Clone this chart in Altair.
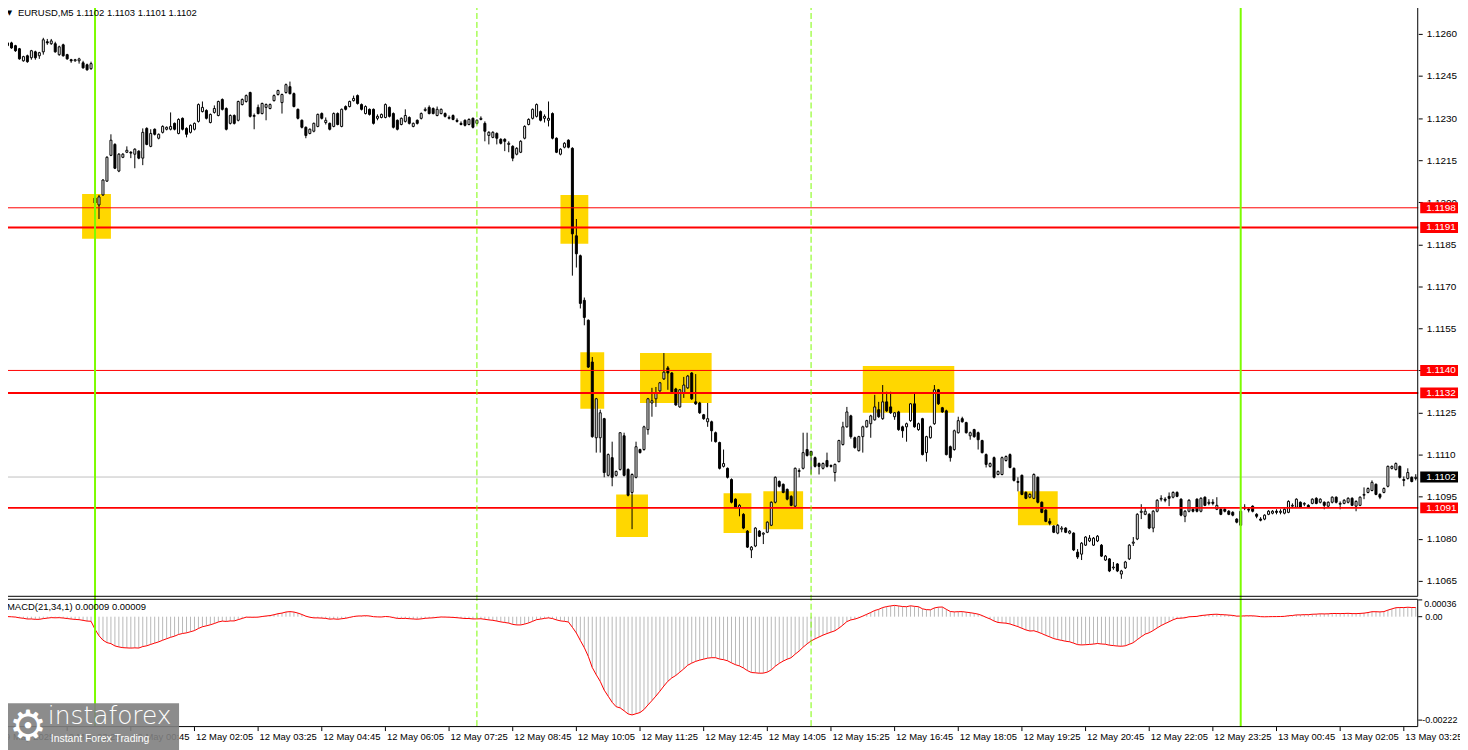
import altair as alt
import pandas as pd

# ----------------------------------------------------------------------------
# EURUSD M5 candles, 9 May 22:05 -> 13 May 03:40 (one value per bar)
# ----------------------------------------------------------------------------
open_ = [
    1.12575, 1.12558, 1.12568, 1.12558, 1.12547, 1.12504, 1.12522, 1.12515, 1.12536, 1.12522,
    1.12536, 1.12572, 1.12565, 1.12565, 1.12526, 1.12561, 1.12526, 1.12508, 1.12504, 1.12504,
    1.12497, 1.12490, 1.12476, 1.12015, 1.11990, 1.12026, 1.12075, 1.12167, 1.12206, 1.12111,
    1.12160, 1.12178, 1.12178, 1.12171, 1.12182, 1.12157, 1.12263, 1.12199, 1.12260, 1.12228,
    1.12249, 1.12260, 1.12260, 1.12281, 1.12245, 1.12299, 1.12263, 1.12249, 1.12260, 1.12288,
    1.12323, 1.12327, 1.12284, 1.12320, 1.12309, 1.12366, 1.12334, 1.12281, 1.12309, 1.12292,
    1.12348, 1.12359, 1.12391, 1.12306, 1.12338, 1.12316, 1.12338, 1.12334, 1.12362, 1.12384,
    1.12355, 1.12391, 1.12412, 1.12387, 1.12331, 1.12292, 1.12267, 1.12245, 1.12253, 1.12270,
    1.12316, 1.12284, 1.12281, 1.12270, 1.12316, 1.12270, 1.12341, 1.12341, 1.12362, 1.12380,
    1.12348, 1.12316, 1.12331, 1.12331, 1.12299, 1.12302, 1.12302, 1.12338, 1.12316, 1.12292,
    1.12277, 1.12288, 1.12302, 1.12270, 1.12292, 1.12299, 1.12327, 1.12338, 1.12334, 1.12309,
    1.12316, 1.12316, 1.12299, 1.12309, 1.12292, 1.12281, 1.12292, 1.12277, 1.12299, 1.12281,
    1.12295, 1.12281, 1.12238, 1.12231, 1.12245, 1.12224, 1.12224, 1.12206, 1.12199, 1.12171,
    1.12178, 1.12228, 1.12277, 1.12299, 1.12306, 1.12323, 1.12299, 1.12292, 1.12316, 1.12228,
    1.12171, 1.12196, 1.12221, 1.12192, 1.11880, 1.11809, 1.11650, 1.11579, 1.11430, 1.11160,
    1.11160, 1.11228, 1.11026, 1.11089, 1.11026, 1.11047, 1.11167, 1.11047, 1.10965, 1.11019,
    1.11118, 1.11118, 1.11189, 1.11284, 1.11299, 1.11327, 1.11370, 1.11409, 1.11391, 1.11334,
    1.11270, 1.11320, 1.11338, 1.11391, 1.11288, 1.11284, 1.11242, 1.11217, 1.11217, 1.11178,
    1.11143, 1.11058, 1.11051, 1.11011, 1.10941, 1.10912, 1.10887, 1.10827, 1.10760, 1.10774,
    1.10827, 1.10816, 1.10823, 1.10848, 1.10930, 1.11004, 1.10994, 1.10976, 1.10951, 1.10916,
    1.11040, 1.11051, 1.11118, 1.11111, 1.11089, 1.11068, 1.11051, 1.11079, 1.11061, 1.11036,
    1.11075, 1.11136, 1.11199, 1.11238, 1.11160, 1.11114, 1.11164, 1.11199, 1.11210, 1.11224,
    1.11260, 1.11228, 1.11288, 1.11270, 1.11235, 1.11252, 1.11199, 1.11199, 1.11221, 1.11281,
    1.11189, 1.11228, 1.11107, 1.11160, 1.11210, 1.11331, 1.11267, 1.11256, 1.11128, 1.11118,
    1.11178, 1.11228, 1.11214, 1.11167, 1.11189, 1.11178, 1.11150, 1.11100, 1.11058, 1.11089,
    1.11029, 1.11029, 1.11079, 1.11100, 1.11051, 1.11004, 1.11026, 1.10965, 1.10948, 1.10944,
    1.11019, 1.10930, 1.10902, 1.10862, 1.10845, 1.10820, 1.10834, 1.10838, 1.10820, 1.10820,
    1.10752, 1.10745, 1.10777, 1.10792, 1.10777, 1.10792, 1.10777, 1.10724, 1.10728, 1.10696,
    1.10710, 1.10674, 1.10696, 1.10728, 1.10784, 1.10799, 1.10894, 1.10887, 1.10887, 1.10838,
    1.10898, 1.10941, 1.10941, 1.10951, 1.10948, 1.10965, 1.10941, 1.10880, 1.10898, 1.10905,
    1.10941, 1.10898, 1.10948, 1.10926, 1.10930, 1.10905, 1.10905, 1.10905, 1.10898, 1.10894,
    1.10870, 1.10848, 1.10909, 1.10905, 1.10916, 1.10887, 1.10870, 1.10870, 1.10887, 1.10891,
    1.10898, 1.10894, 1.10891, 1.10894, 1.10916, 1.10912, 1.10930, 1.10923, 1.10919, 1.10926,
    1.10944, 1.10930, 1.10930, 1.10916, 1.10930, 1.10948, 1.10923, 1.10926, 1.10930, 1.10944,
    1.10916, 1.10919, 1.10955, 1.10965, 1.10972, 1.10994, 1.10958, 1.10965, 1.10987, 1.11051,
    1.11047, 1.11058, 1.11011, 1.11015, 1.11019, 1.11015,
]

close = [
    1.12561, 1.12568, 1.12550, 1.12540, 1.12511, 1.12519, 1.12501, 1.12540, 1.12515, 1.12533,
    1.12579, 1.12568, 1.12575, 1.12536, 1.12554, 1.12522, 1.12511, 1.12504, 1.12508, 1.12511,
    1.12479, 1.12472, 1.12494, 1.11997, 1.12019, 1.12079, 1.12160, 1.12221, 1.12121, 1.12171,
    1.12171, 1.12185, 1.12175, 1.12189, 1.12157, 1.12249, 1.12206, 1.12245, 1.12242, 1.12242,
    1.12270, 1.12267, 1.12270, 1.12260, 1.12295, 1.12260, 1.12242, 1.12274, 1.12281, 1.12348,
    1.12338, 1.12299, 1.12313, 1.12334, 1.12359, 1.12331, 1.12260, 1.12309, 1.12281, 1.12359,
    1.12366, 1.12380, 1.12306, 1.12309, 1.12316, 1.12352, 1.12348, 1.12348, 1.12380, 1.12398,
    1.12384, 1.12419, 1.12387, 1.12341, 1.12299, 1.12267, 1.12238, 1.12260, 1.12281, 1.12313,
    1.12299, 1.12292, 1.12260, 1.12316, 1.12277, 1.12331, 1.12331, 1.12359, 1.12370, 1.12352,
    1.12331, 1.12341, 1.12313, 1.12281, 1.12306, 1.12313, 1.12348, 1.12306, 1.12267, 1.12260,
    1.12299, 1.12309, 1.12281, 1.12281, 1.12281, 1.12316, 1.12331, 1.12316, 1.12316, 1.12331,
    1.12331, 1.12306, 1.12302, 1.12295, 1.12288, 1.12277, 1.12274, 1.12295, 1.12267, 1.12292,
    1.12299, 1.12253, 1.12249, 1.12249, 1.12228, 1.12210, 1.12217, 1.12210, 1.12157, 1.12192,
    1.12217, 1.12270, 1.12295, 1.12331, 1.12348, 1.12292, 1.12306, 1.12299, 1.12228, 1.12178,
    1.12189, 1.12210, 1.12196, 1.11887, 1.11816, 1.11639, 1.11589, 1.11412, 1.11164, 1.11299,
    1.11249, 1.11036, 1.11100, 1.11019, 1.11040, 1.11178, 1.11026, 1.10955, 1.11029, 1.11128,
    1.11107, 1.11199, 1.11299, 1.11292, 1.11320, 1.11356, 1.11394, 1.11391, 1.11324, 1.11277,
    1.11331, 1.11348, 1.11380, 1.11299, 1.11281, 1.11249, 1.11228, 1.11228, 1.11185, 1.11146,
    1.11051, 1.11068, 1.11019, 1.10930, 1.10912, 1.10919, 1.10838, 1.10770, 1.10770, 1.10838,
    1.10809, 1.10820, 1.10859, 1.10930, 1.11019, 1.10987, 1.10965, 1.10941, 1.10919, 1.11051,
    1.11043, 1.11107, 1.11097, 1.11097, 1.11058, 1.11058, 1.11068, 1.11058, 1.11058, 1.11065,
    1.11150, 1.11199, 1.11252, 1.11164, 1.11125, 1.11164, 1.11199, 1.11221, 1.11238, 1.11270,
    1.11235, 1.11288, 1.11256, 1.11249, 1.11249, 1.11189, 1.11185, 1.11210, 1.11281, 1.11199,
    1.11210, 1.11100, 1.11164, 1.11199, 1.11331, 1.11281, 1.11252, 1.11100, 1.11089, 1.11185,
    1.11221, 1.11217, 1.11178, 1.11178, 1.11164, 1.11153, 1.11107, 1.11065, 1.11068, 1.11019,
    1.11040, 1.11089, 1.11093, 1.11054, 1.11008, 1.11001, 1.10958, 1.10944, 1.10958, 1.11029,
    1.10930, 1.10894, 1.10862, 1.10855, 1.10823, 1.10848, 1.10838, 1.10823, 1.10827, 1.10760,
    1.10735, 1.10784, 1.10806, 1.10802, 1.10802, 1.10809, 1.10738, 1.10738, 1.10685, 1.10699,
    1.10685, 1.10685, 1.10717, 1.10777, 1.10788, 1.10887, 1.10898, 1.10898, 1.10838, 1.10898,
    1.10937, 1.10944, 1.10937, 1.10944, 1.10965, 1.10951, 1.10884, 1.10898, 1.10937, 1.10898,
    1.10898, 1.10944, 1.10919, 1.10930, 1.10926, 1.10919, 1.10887, 1.10898, 1.10887, 1.10884,
    1.10859, 1.10898, 1.10912, 1.10902, 1.10898, 1.10880, 1.10866, 1.10884, 1.10898, 1.10898,
    1.10894, 1.10898, 1.10905, 1.10933, 1.10919, 1.10941, 1.10912, 1.10926, 1.10912, 1.10941,
    1.10926, 1.10941, 1.10919, 1.10930, 1.10948, 1.10930, 1.10926, 1.10937, 1.10944, 1.10919,
    1.10933, 1.10948, 1.10958, 1.10979, 1.11001, 1.10958, 1.10948, 1.10979, 1.11058, 1.11058,
    1.11068, 1.11019, 1.11008, 1.11036, 1.11004, 1.11019,
]

high = [
    1.12579, 1.12572, 1.12572, 1.12561, 1.12550, 1.12522, 1.12526, 1.12543, 1.12540, 1.12536,
    1.12586, 1.12582, 1.12582, 1.12572, 1.12558, 1.12565, 1.12529, 1.12511, 1.12511, 1.12515,
    1.12504, 1.12494, 1.12501, 1.12019, 1.12026, 1.12082, 1.12164, 1.12242, 1.12210, 1.12175,
    1.12175, 1.12199, 1.12182, 1.12192, 1.12185, 1.12263, 1.12267, 1.12260, 1.12263, 1.12245,
    1.12274, 1.12270, 1.12320, 1.12284, 1.12299, 1.12302, 1.12267, 1.12277, 1.12284, 1.12352,
    1.12359, 1.12331, 1.12316, 1.12345, 1.12362, 1.12370, 1.12338, 1.12313, 1.12313, 1.12362,
    1.12370, 1.12384, 1.12394, 1.12316, 1.12348, 1.12355, 1.12352, 1.12352, 1.12384, 1.12401,
    1.12387, 1.12423, 1.12430, 1.12391, 1.12334, 1.12295, 1.12270, 1.12263, 1.12284, 1.12316,
    1.12320, 1.12302, 1.12284, 1.12320, 1.12320, 1.12334, 1.12345, 1.12362, 1.12380, 1.12384,
    1.12352, 1.12345, 1.12334, 1.12334, 1.12313, 1.12316, 1.12352, 1.12341, 1.12320, 1.12295,
    1.12302, 1.12331, 1.12306, 1.12284, 1.12295, 1.12320, 1.12338, 1.12345, 1.12338, 1.12341,
    1.12334, 1.12320, 1.12309, 1.12313, 1.12299, 1.12288, 1.12295, 1.12299, 1.12302, 1.12295,
    1.12306, 1.12288, 1.12253, 1.12253, 1.12249, 1.12228, 1.12228, 1.12217, 1.12203, 1.12196,
    1.12221, 1.12274, 1.12299, 1.12334, 1.12352, 1.12327, 1.12313, 1.12359, 1.12320, 1.12231,
    1.12192, 1.12214, 1.12224, 1.12196, 1.11940, 1.11813, 1.11660, 1.11582, 1.11448, 1.11302,
    1.11260, 1.11231, 1.11104, 1.11146, 1.11043, 1.11178, 1.11178, 1.11051, 1.11033, 1.11146,
    1.11121, 1.11203, 1.11302, 1.11338, 1.11341, 1.11359, 1.11462, 1.11416, 1.11394, 1.11338,
    1.11334, 1.11377, 1.11384, 1.11394, 1.11387, 1.11288, 1.11245, 1.11284, 1.11221, 1.11182,
    1.11146, 1.11118, 1.11054, 1.11015, 1.10944, 1.10923, 1.10891, 1.10831, 1.10774, 1.10841,
    1.10831, 1.10823, 1.10862, 1.10933, 1.11022, 1.11008, 1.10997, 1.10979, 1.10955, 1.11054,
    1.11051, 1.11178, 1.11178, 1.11114, 1.11093, 1.11072, 1.11072, 1.11107, 1.11065, 1.11068,
    1.11153, 1.11217, 1.11270, 1.11242, 1.11164, 1.11167, 1.11203, 1.11224, 1.11242, 1.11313,
    1.11288, 1.11348, 1.11324, 1.11324, 1.11252, 1.11256, 1.11203, 1.11214, 1.11284, 1.11320,
    1.11214, 1.11231, 1.11167, 1.11203, 1.11348, 1.11334, 1.11270, 1.11260, 1.11132, 1.11189,
    1.11235, 1.11235, 1.11217, 1.11182, 1.11192, 1.11182, 1.11153, 1.11104, 1.11072, 1.11093,
    1.11043, 1.11093, 1.11097, 1.11104, 1.11054, 1.11019, 1.11029, 1.10969, 1.10962, 1.11033,
    1.11022, 1.10933, 1.10905, 1.10873, 1.10848, 1.10852, 1.10845, 1.10841, 1.10831, 1.10823,
    1.10763, 1.10788, 1.10809, 1.10813, 1.10806, 1.10813, 1.10781, 1.10742, 1.10731, 1.10717,
    1.10713, 1.10689, 1.10721, 1.10781, 1.10806, 1.10891, 1.10923, 1.10912, 1.10891, 1.10902,
    1.10941, 1.10955, 1.10948, 1.10965, 1.10969, 1.10969, 1.10944, 1.10902, 1.10941, 1.10909,
    1.10944, 1.10948, 1.10951, 1.10941, 1.10941, 1.10948, 1.10909, 1.10909, 1.10902, 1.10898,
    1.10873, 1.10916, 1.10923, 1.10912, 1.10919, 1.10891, 1.10877, 1.10887, 1.10902, 1.10902,
    1.10905, 1.10905, 1.10909, 1.10937, 1.10926, 1.10944, 1.10933, 1.10930, 1.10923, 1.10944,
    1.10948, 1.10944, 1.10933, 1.10933, 1.10951, 1.10951, 1.10933, 1.10941, 1.10948, 1.10948,
    1.10937, 1.10951, 1.10983, 1.10983, 1.11008, 1.10997, 1.10962, 1.10983, 1.11061, 1.11061,
    1.11072, 1.11061, 1.11022, 1.11051, 1.11022, 1.11030,
]

low = [
    1.12558, 1.12554, 1.12547, 1.12536, 1.12508, 1.12501, 1.12497, 1.12508, 1.12508, 1.12511,
    1.12526, 1.12561, 1.12561, 1.12533, 1.12522, 1.12519, 1.12508, 1.12497, 1.12501, 1.12494,
    1.12476, 1.12469, 1.12472, 1.11940, 1.11940, 1.12022, 1.12072, 1.12164, 1.12118, 1.12107,
    1.12157, 1.12175, 1.12157, 1.12121, 1.12153, 1.12132, 1.12203, 1.12196, 1.12238, 1.12224,
    1.12245, 1.12256, 1.12256, 1.12256, 1.12242, 1.12256, 1.12231, 1.12245, 1.12256, 1.12284,
    1.12320, 1.12295, 1.12281, 1.12316, 1.12306, 1.12327, 1.12256, 1.12277, 1.12277, 1.12288,
    1.12345, 1.12355, 1.12302, 1.12260, 1.12313, 1.12313, 1.12292, 1.12331, 1.12359, 1.12380,
    1.12316, 1.12387, 1.12384, 1.12338, 1.12295, 1.12263, 1.12228, 1.12242, 1.12249, 1.12267,
    1.12295, 1.12277, 1.12256, 1.12267, 1.12274, 1.12267, 1.12327, 1.12338, 1.12359, 1.12348,
    1.12327, 1.12313, 1.12309, 1.12277, 1.12292, 1.12299, 1.12299, 1.12302, 1.12263, 1.12256,
    1.12274, 1.12284, 1.12277, 1.12267, 1.12277, 1.12295, 1.12323, 1.12313, 1.12313, 1.12306,
    1.12313, 1.12302, 1.12295, 1.12292, 1.12284, 1.12274, 1.12270, 1.12274, 1.12263, 1.12277,
    1.12292, 1.12217, 1.12206, 1.12228, 1.12206, 1.12206, 1.12182, 1.12178, 1.12146, 1.12167,
    1.12175, 1.12224, 1.12274, 1.12295, 1.12302, 1.12288, 1.12284, 1.12270, 1.12224, 1.12175,
    1.12167, 1.12192, 1.12192, 1.11738, 1.11767, 1.11621, 1.11561, 1.11409, 1.11160, 1.11107,
    1.11107, 1.11019, 1.11022, 1.10987, 1.11022, 1.11043, 1.11022, 1.10951, 1.10834, 1.11015,
    1.11104, 1.11114, 1.11171, 1.11235, 1.11270, 1.11324, 1.11366, 1.11331, 1.11320, 1.11274,
    1.11267, 1.11302, 1.11334, 1.11295, 1.11277, 1.11245, 1.11224, 1.11199, 1.11146, 1.11143,
    1.11047, 1.11054, 1.11015, 1.10926, 1.10909, 1.10880, 1.10834, 1.10767, 1.10731, 1.10770,
    1.10806, 1.10781, 1.10820, 1.10845, 1.10926, 1.10983, 1.10962, 1.10937, 1.10916, 1.10912,
    1.11019, 1.11047, 1.11093, 1.11029, 1.11054, 1.11029, 1.11047, 1.11054, 1.11054, 1.11004,
    1.11072, 1.11132, 1.11196, 1.11157, 1.11121, 1.11111, 1.11107, 1.11196, 1.11160, 1.11221,
    1.11231, 1.11224, 1.11252, 1.11245, 1.11224, 1.11185, 1.11160, 1.11146, 1.11217, 1.11196,
    1.11185, 1.11097, 1.11075, 1.11157, 1.11206, 1.11277, 1.11249, 1.11097, 1.11075, 1.11114,
    1.11175, 1.11214, 1.11175, 1.11153, 1.11160, 1.11118, 1.11104, 1.11054, 1.11054, 1.11015,
    1.11026, 1.11026, 1.11075, 1.11051, 1.11004, 1.10969, 1.10955, 1.10941, 1.10944, 1.10941,
    1.10926, 1.10891, 1.10859, 1.10848, 1.10820, 1.10816, 1.10823, 1.10820, 1.10816, 1.10756,
    1.10728, 1.10724, 1.10774, 1.10788, 1.10774, 1.10788, 1.10735, 1.10721, 1.10681, 1.10689,
    1.10681, 1.10657, 1.10692, 1.10724, 1.10774, 1.10795, 1.10870, 1.10884, 1.10834, 1.10823,
    1.10894, 1.10933, 1.10930, 1.10916, 1.10944, 1.10948, 1.10880, 1.10859, 1.10894, 1.10894,
    1.10894, 1.10894, 1.10916, 1.10919, 1.10919, 1.10902, 1.10884, 1.10894, 1.10884, 1.10880,
    1.10855, 1.10845, 1.10902, 1.10894, 1.10894, 1.10873, 1.10862, 1.10866, 1.10884, 1.10887,
    1.10887, 1.10887, 1.10887, 1.10891, 1.10909, 1.10909, 1.10909, 1.10916, 1.10909, 1.10923,
    1.10923, 1.10926, 1.10905, 1.10912, 1.10926, 1.10926, 1.10905, 1.10923, 1.10926, 1.10916,
    1.10898, 1.10916, 1.10941, 1.10962, 1.10969, 1.10955, 1.10941, 1.10962, 1.10983, 1.11047,
    1.11043, 1.11015, 1.10987, 1.11011, 1.11001, 1.11008,
]

assert len(open_) == len(close) == len(high) == len(low) == 356

# time axis labels (one every 16 bars, bar index 0 = 9 May 22:05)
time_tick_idx = list(range(0, 353, 16))
time_tick_labels = [
    "9 May 2025", "9 May 23:25", "12 May 00:45", "12 May 02:05", "12 May 03:25",
    "12 May 04:45", "12 May 06:05", "12 May 07:25", "12 May 08:45", "12 May 10:05",
    "12 May 11:25", "12 May 12:45", "12 May 14:05", "12 May 15:25", "12 May 16:45",
    "12 May 18:05", "12 May 19:25", "12 May 20:45", "12 May 22:05", "12 May 23:25",
    "13 May 00:45", "13 May 02:05", "13 May 03:25",
]

price_ticks = [1.1260, 1.1245, 1.1230, 1.1215, 1.1200, 1.1185, 1.1170,
               1.1155, 1.1140, 1.1125, 1.1110, 1.1095, 1.1080, 1.1065]

level_thin = [1.1198, 1.1140]
level_thick = [1.1191, 1.1132, 1.1091]
current_price = 1.1102

day_start_idx = [23, 311]      # 12 May 00:00, 13 May 00:00
session_idx = [119, 203]       # 12 May 08:00, 12 May 15:00

# yellow signal zones: bar-index span and price span
zone_i0 = [19.75, 140.0, 145.0, 160.0, 154.0, 181.0, 191.0, 216.0, 255.0]
zone_i1 = [27.0, 147.0, 151.0, 178.0, 162.0, 188.0, 201.0, 239.0, 265.0]
zone_top = [1.12029, 1.12026, 1.11465, 1.11462, 1.10958, 1.10962, 1.10969, 1.11416, 1.10969]
zone_bot = [1.11870, 1.11852, 1.11263, 1.11284, 1.10806, 1.10820, 1.10834, 1.11249, 1.10848]

macd_max_val, macd_max_txt = 0.00036, "0.00036"
macd_zero_val, macd_zero_txt = 0.0, "0.00"
macd_min_val, macd_min_txt = -0.00222, "-0.00222"

header_text = "EURUSD,M5  1.1102 1.1103 1.1101 1.1102"
macd_title = "MACD(21,34,1) 0.00009 0.00009"

# ----------------------------------------------------------------------------
bars = pd.DataFrame({"i": range(len(close)), "open": open_, "high": high,
                     "low": low, "close": close})
cs = pd.Series(close)
bars["macd"] = cs.ewm(span=21, adjust=False).mean() - cs.ewm(span=34, adjust=False).mean()

W, H = 1423, 727
MAIN_H = 595
MACD_TOP = 598
FONT = "Liberation Sans"
FS = 9.5
FS_AX = 10

XS = alt.Scale(domain=[-0.125, 355.625], nice=False, zero=False)
PS = alt.Scale(domain=[1.10128369, 1.12706383], nice=False, zero=False)
MS = alt.Scale(domain=[-0.0023695, 0.0131495], nice=False, zero=False)

one = pd.DataFrame({"k": [0]})


def X(f):
    return alt.X(f, type="quantitative", scale=XS, axis=None)


def PY(f):
    return alt.Y(f, type="quantitative", scale=PS, axis=None)


def MY(f):
    return alt.Y(f, type="quantitative", scale=MS, axis=None)


zones = alt.Chart(pd.DataFrame({"i0": zone_i0, "i1": zone_i1, "top": zone_top, "bot": zone_bot})).mark_rect(
    color="#FFD700").encode(x=X("i0"), x2="i1", y=PY("top"), y2="bot")

cur_line = alt.Chart(pd.DataFrame({"p": [current_price]})).mark_rule(color="#C0C0C0", strokeWidth=1).encode(
    y=PY("p"), x=alt.value(0), x2=alt.value(W))

wicks = alt.Chart(bars).mark_rule(color="black", strokeWidth=1, clip=True).encode(
    x=X("i"), y=PY("low"), y2="high")

bodies = alt.Chart(bars).transform_calculate(
    xl="datum.i - 0.25", xr="datum.i + 0.25"
).mark_rect(stroke="black", strokeWidth=1, clip=True).encode(
    x=X("xl"), x2="xr", y=PY("open"), y2="close",
    fill=alt.condition("datum.close >= datum.open", alt.value("#FFFFFF"), alt.value("#000000")))

thin_lines = alt.Chart(pd.DataFrame({"p": level_thin})).mark_rule(color="#FF0000", strokeWidth=1).encode(
    y=PY("p"), x=alt.value(0), x2=alt.value(W))
thick_lines = alt.Chart(pd.DataFrame({"p": level_thick})).mark_rule(color="#FF0000", strokeWidth=2).encode(
    y=PY("p"), x=alt.value(0), x2=alt.value(W))

macd_hist = alt.Chart(bars).mark_rule(color="#B8B8B8", strokeWidth=1, clip=True).encode(
    x=X("i"), y=MY("macd"), y2=alt.datum(0))
macd_line = alt.Chart(bars).mark_line(color="#FF0000", strokeWidth=1, clip=True).encode(
    x=X("i"), y=MY("macd"))

green_solid = alt.Chart(pd.DataFrame({"i": day_start_idx})).mark_rule(color="#7CFC00", strokeWidth=2).encode(
    x=X("i"), y=alt.value(0), y2=alt.value(H))
green_dash = alt.Chart(pd.DataFrame({"i": session_idx})).mark_rule(
    color="#7CFC00", strokeWidth=1, strokeDash=[6, 3]).encode(
    x=X("i"), y=alt.value(0), y2=alt.value(H))

main_frame = alt.Chart(one).mark_rect(fillOpacity=0, stroke="black", strokeWidth=1).encode(
    x=alt.value(0.5), x2=alt.value(W - 0.5), y=alt.value(0.5), y2=alt.value(MAIN_H + 0.5))
macd_frame = alt.Chart(one).mark_rect(fillOpacity=0, stroke="black", strokeWidth=1).encode(
    x=alt.value(0.5), x2=alt.value(W - 0.5), y=alt.value(MACD_TOP + 0.5), y2=alt.value(H - 0.5))

price_axis = alt.Chart(pd.DataFrame({"p": price_ticks})).mark_point(opacity=0).encode(
    y=alt.Y("p:Q", scale=PS, axis=alt.Axis(
        orient="right", values=price_ticks, format=".4f", tickSize=4, tickColor="black",
        labelPadding=4, labelFont=FONT, labelFontSize=FS_AX, labelColor="black",
        domain=False, grid=False, title=None, labelOverlap=False, labelFlush=False)))

levels_all = level_thin + level_thick
box_df = pd.DataFrame({"p": levels_all, "txt": [f"{v:.4f}" for v in levels_all]})
red_boxes = alt.Chart(box_df).mark_rect(color="#FF0000", yOffset=-5.5, y2Offset=5.5).encode(
    y=PY("p"), y2="p", x=alt.value(W + 2), x2=alt.value(W + 40))
red_box_txt = alt.Chart(box_df).mark_text(
    color="white", align="left", baseline="middle", font=FONT, fontSize=FS_AX).encode(
    y=PY("p"), x=alt.value(W + 8), text="txt:N")

cur_df = pd.DataFrame({"p": [current_price], "txt": [f"{current_price:.4f}"]})
cur_box = alt.Chart(cur_df).mark_rect(color="#000000", yOffset=-5.5, y2Offset=5.5).encode(
    y=PY("p"), y2="p", x=alt.value(W + 2), x2=alt.value(W + 40))
cur_txt = alt.Chart(cur_df).mark_text(
    color="white", align="left", baseline="middle", font=FONT, fontSize=FS_AX).encode(
    y=PY("p"), x=alt.value(W + 8), text="txt:N")

macd_lab_df = pd.DataFrame({"v": [macd_max_val, macd_zero_val, macd_min_val],
                            "lab": [macd_max_txt, macd_zero_txt, macd_min_txt]})
macd_ticks = alt.Chart(macd_lab_df).mark_rule(color="black").encode(
    y=MY("v"), x=alt.value(W), x2=alt.value(W + 4))
macd_lab_top = alt.Chart(macd_lab_df.iloc[:1]).mark_text(
    align="left", baseline="top", font=FONT, fontSize=9, color="black").encode(
    y=MY("v"), x=alt.value(W + 6), text="lab:N")
macd_lab_zero = alt.Chart(macd_lab_df.iloc[1:2]).mark_text(
    align="left", baseline="middle", font=FONT, fontSize=9, color="black").encode(
    y=MY("v"), x=alt.value(W + 7), text="lab:N")
macd_lab_min = alt.Chart(macd_lab_df.iloc[2:]).mark_text(
    align="left", baseline="middle", font=FONT, fontSize=9, color="black").encode(
    y=MY("v"), x=alt.value(W + 4), text="lab:N")

time_df = pd.DataFrame({"i": time_tick_idx, "lab": time_tick_labels})
time_ticks = alt.Chart(time_df).mark_rule(color="black").encode(
    x=X("i"), y=alt.value(H), y2=alt.value(H + 4))
time_txt = alt.Chart(time_df).mark_text(
    align="left", baseline="middle", dx=1.5, font=FONT, fontSize=FS, color="black").encode(
    x=X("i"), y=alt.value(H + 10), text="lab:N")

header_tri = alt.Chart(one).mark_text(text="\u25BC", font="DejaVu Sans", fontSize=7, color="black").encode(
    x=alt.value(6.5), y=alt.value(9))
header = alt.Chart(pd.DataFrame({"t": [header_text]})).mark_text(
    align="left", baseline="middle", font=FONT, fontSize=FS, color="black").encode(
    x=alt.value(15), y=alt.value(8.5), text="t:N")
macd_hdr = alt.Chart(pd.DataFrame({"t": [macd_title]})).mark_text(
    align="left", baseline="middle", font=FONT, fontSize=FS, color="black").encode(
    x=alt.value(4), y=alt.value(606.5), text="t:N")

wm_box = alt.Chart(one).mark_rect(color="#7F7F7F", opacity=0.9).encode(
    x=alt.value(-3), x2=alt.value(177), y=alt.value(703), y2=alt.value(760))
wm_gear = alt.Chart(one).mark_text(text="\u2699", font="DejaVu Sans", fontSize=42, color="white",
                                   baseline="middle", align="center").encode(
    x=alt.value(25), y=alt.value(727))
wm_name = alt.Chart(pd.DataFrame({"t": ["instaforex"]})).mark_text(
    align="left", baseline="middle", font="DejaVu Sans", fontSize=25, fontWeight=300, color="white").encode(
    x=alt.value(45), y=alt.value(716), text="t:N")
wm_sub = alt.Chart(pd.DataFrame({"t": ["Instant Forex Trading"]})).mark_text(
    align="left", baseline="middle", font=FONT, fontSize=10.5, color="white").encode(
    x=alt.value(48), y=alt.value(739), text="t:N")

chart = alt.layer(
    zones, cur_line, wicks, bodies, thin_lines, thick_lines,
    macd_hist, macd_line, green_solid, green_dash,
    main_frame, macd_frame, price_axis,
    red_boxes, red_box_txt, cur_box, cur_txt,
    macd_ticks, macd_lab_top, macd_lab_zero, macd_lab_min,
    time_ticks, time_txt,
    header_tri, header, macd_hdr,
    wm_box, wm_gear, wm_name, wm_sub,
).resolve_scale(y="independent").properties(
    width=W, height=H,
    autosize=alt.AutoSizeParams(type="none"),
    padding={"left": -5, "top": -6, "right": 42, "bottom": 21},
    background="white",
).configure_view(strokeWidth=0)

chart.save("out.html", embed_options={"renderer": "svg", "actions": False})
